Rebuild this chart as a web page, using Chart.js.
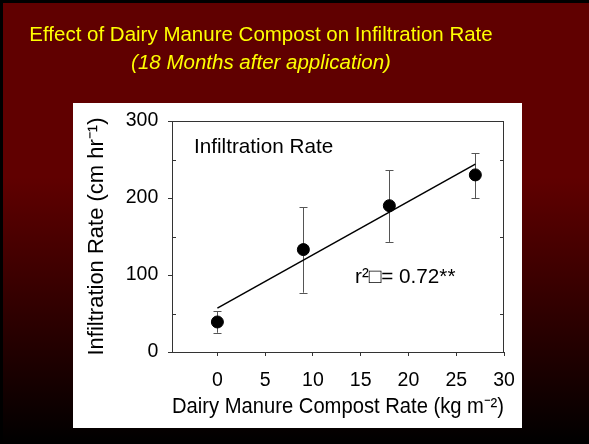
<!DOCTYPE html>
<html>
<head>
<meta charset="utf-8">
<script src="https://cdn.jsdelivr.net/npm/chart.js@4.4.1/dist/chart.umd.min.js"></script>
<style>
  html, body { margin: 0; padding: 0; background: #000; }
  canvas { display: block; }
</style>
</head>
<body>
<canvas id="chart" width="589" height="444"></canvas>
<script>
// ==================== DATA ====================
const rates = [0, 9, 18, 27];              // compost rate, kg m-2
const infiltration = [39, 133, 190, 230];  // mean infiltration, cm hr-1
const errLow = [25, 77, 143, 200];
const errHigh = [53, 188, 236, 258];
const fitX = [0, 27];                      // regression line ends
const fitY = [57, 244];
const xTicks = [0, 5, 10, 15, 20, 25, 30];
const yMinorTicks = [50, 150, 250];

const FONT = '"Liberation Sans", Arial, sans-serif';
Chart.defaults.font.family = FONT;
Chart.defaults.color = '#000';

// ==================== PLUGINS ====================
const slideBackground = {
    id: 'slideBackground',
    beforeDraw(chart) {
        const ctx = chart.ctx;
        const w = chart.width, h = chart.height;
        const g = ctx.createLinearGradient(0, 0, 0, h);
        g.addColorStop(0, '#600000');
        g.addColorStop(0.4, '#600000');
        g.addColorStop(1, '#000000');
        ctx.save();
        ctx.fillStyle = g;
        ctx.fillRect(0, 0, w, h);
        ctx.fillStyle = '#000';
        ctx.fillRect(0, 0, w, 3);
        ctx.fillRect(0, 0, 3, h);
        ctx.fillStyle = '#fff';
        ctx.fillRect(73, 103, 449, 325);
        ctx.restore();
    }
};

const errorBars = {
    id: 'errorBars',
    beforeDatasetsDraw(chart) {
        const ctx = chart.ctx;
        const xs = chart.scales.x, ys = chart.scales.y;
        ctx.save();
        ctx.strokeStyle = '#555';
        ctx.lineWidth = 1;
        rates.forEach((r, i) => {
            const px = Math.round(xs.getPixelForValue(r)) + 0.5;
            const top = ys.getPixelForValue(errHigh[i]);
            const bot = ys.getPixelForValue(errLow[i]);
            ctx.beginPath();
            ctx.moveTo(px, top); ctx.lineTo(px, bot);
            ctx.moveTo(px - 4, Math.round(top) + 0.5); ctx.lineTo(px + 4, Math.round(top) + 0.5);
            ctx.moveTo(px - 4, Math.round(bot) + 0.5); ctx.lineTo(px + 4, Math.round(bot) + 0.5);
            ctx.stroke();
        });
        ctx.restore();
    }
};

const frameAndText = {
    id: 'frameAndText',
    afterDraw(chart) {
        const ctx = chart.ctx;
        const a = chart.chartArea;
        const ys = chart.scales.y;
        ctx.save();
        ctx.strokeStyle = '#333';
        ctx.lineWidth = 1;
        ctx.beginPath();
        ctx.moveTo(a.left, Math.round(a.top) + 0.5);
        ctx.lineTo(a.right, Math.round(a.top) + 0.5);
        ctx.moveTo(Math.round(a.right) - 0.5, a.top);
        ctx.lineTo(Math.round(a.right) - 0.5, a.bottom);
        // minor ticks, inside on both sides
        yMinorTicks.forEach(v => {
            const py = Math.round(ys.getPixelForValue(v)) + 0.5;
            ctx.moveTo(a.left, py); ctx.lineTo(a.left + 4, py);
            ctx.moveTo(a.right - 4, py); ctx.lineTo(a.right, py);
        });
        ctx.stroke();

        ctx.fillStyle = '#000';
        ctx.font = '20.7px ' + FONT;
        ctx.textBaseline = 'middle';
        ctx.textAlign = 'left';
        ctx.fillText('Infiltration Rate', a.left + 22, a.top + 26);
        ctx.fillText('r²\u25A1= 0.72**', a.left + 183, a.top + 156);
        ctx.restore();
    }
};

// ==================== CHART ====================
new Chart(document.getElementById('chart'), {
    type: 'scatter',
    data: {
        datasets: [
            {
                type: 'line',
                data: fitX.map((x, i) => ({ x: x, y: fitY[i] })),
                borderColor: '#000',
                borderWidth: 1.5,
                pointRadius: 0,
                fill: false
            },
            {
                data: rates.map((x, i) => ({ x: x, y: infiltration[i] })),
                pointRadius: 6,
                backgroundColor: '#000',
                borderColor: '#000'
            }
        ]
    },
    options: {
        responsive: false,
        animation: false,
        devicePixelRatio: 1,
        layout: { padding: { left: 18, right: 85, top: 0, bottom: 0 } },
        plugins: {
            legend: { display: false },
            tooltip: { enabled: false },
            title: {
                display: true,
                text: 'Effect of Dairy Manure Compost on Infiltration Rate',
                color: '#ffff00',
                font: { size: 20.5, weight: 'normal' },
                padding: { top: 23.2, bottom: 0 }
            },
            subtitle: {
                display: true,
                text: '(18 Months after application)',
                color: '#ffff00',
                font: { size: 20.5, style: 'italic' },
                padding: { top: 2.9, bottom: 45.7 }
            }
        },
        scales: {
            x: {
                type: 'linear',
                position: 'bottom',
                min: -4.75,
                max: 30,
                afterBuildTicks: s => { s.ticks = xTicks.map(v => ({ value: v })); },
                afterFit: s => { s.height = 92; },
                ticks: { color: '#000', font: { size: 19.5 }, padding: 13, maxRotation: 0 },
                grid: { drawOnChartArea: false, drawTicks: true, tickLength: 4, tickColor: '#333', color: '#333' },
                border: { display: true, color: '#333' },
                title: {
                    display: true,
                    text: 'Dairy Manure Compost Rate (kg m⁻²)',
                    color: '#000',
                    font: { size: 21.4 },
                    padding: { top: 0, bottom: 24.2 }
                }
            },
            y: {
                min: 0,
                max: 300,
                afterFit: s => { s.width = 154; },
                ticks: { stepSize: 100, color: '#000', font: { size: 19.5 }, padding: 9.7 },
                grid: { drawOnChartArea: false, drawTicks: true, tickLength: 4, tickColor: '#333', color: '#333' },
                border: { display: true, color: '#333' },
                title: {
                    display: true,
                    text: 'Infiltration Rate (cm hr⁻¹)',
                    color: '#000',
                    font: { size: 22 },
                    padding: { top: 66.2, bottom: 0 }
                }
            }
        }
    },
    plugins: [slideBackground, errorBars, frameAndText]
});
</script>
</body>
</html>
